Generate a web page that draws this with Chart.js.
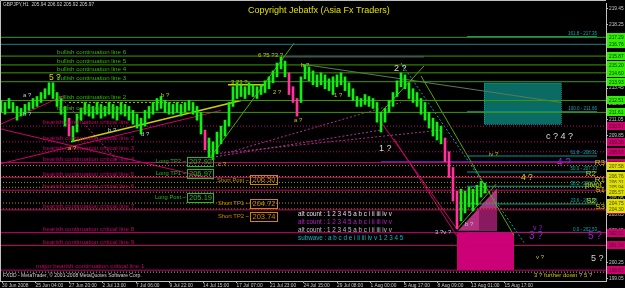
<!DOCTYPE html>
<html>
<head>
<meta charset="utf-8">
<script src="https://cdn.jsdelivr.net/npm/chart.js@4.4.1/dist/chart.umd.min.js"></script>
<style>
  html, body { margin: 0; padding: 0; background: #000; }
  #chart { display: block; }
</style>
</head>
<body>
<canvas id="chart" width="625" height="288"></canvas>
<script>
// GBPJPY H1 - bar slots (one slot = a few hours), prices in yen
const dateLabels = ["30 Jun 2008", "25 Jun 04:00", "27 Jun 20:00", "2 Jul 13:00", "7 Jul 06:00", "9 Jul 22:00",
  "14 Jul 15:00", "17 Jul 07:00", "21 Jul 23:00", "24 Jul 15:00", "29 Jul 08:00", "1 Aug 00:00",
  "5 Aug 17:00", "8 Aug 09:00", "13 Aug 01:00", "15 Aug 17:00"];
const dateTickPos = [0.25, 8.625, 17, 25.375, 33.75, 42.125, 50.5, 58.875, 67.25, 75.625, 84, 92.375,
  100.75, 109.125, 117.5, 125.875];
const priceTicks = [199.05, 200.25, 201.45, 202.65, 203.85, 205.05, 206.25, 207.45, 208.65, 209.85,
  211.05, 212.25, 213.45, 214.65, 215.85, 217.05, 218.25, 219.45];

const barHigh = [212.51, 212.36, 212.66, 212.36, 212.06, 211.91, 212.21, 212.36, 212.66, 212.81,
  213.11, 213.40, 213.85, 213.85, 213.11, 212.66, 212.06, 211.17, 210.57, 211.47,
  211.91, 212.36, 212.21, 212.06, 212.36, 212.21, 212.06, 212.36, 212.21, 212.06,
  212.36, 212.21, 212.06, 211.76, 211.47, 211.17, 211.76, 212.06, 212.36, 212.66,
  212.81, 212.51, 212.36, 212.21, 212.36, 212.21, 212.36, 212.51, 212.36, 212.06,
  211.61, 210.27, 209.67, 209.38, 210.12, 210.57, 211.02, 212.36, 213.55, 213.85,
  213.70, 213.55, 213.85, 213.70, 213.55, 213.70, 214.00, 214.30, 214.75, 215.35,
  215.79, 215.49, 214.60, 213.55, 212.66, 214.30, 215.20, 215.05, 214.75, 214.45,
  214.60, 214.45, 214.15, 214.30, 214.45, 214.60, 214.30, 213.85, 213.40, 212.81,
  212.66, 212.96, 212.81, 212.66, 212.36, 211.61, 211.91, 212.51, 213.11, 214.00,
  214.60, 214.45, 213.85, 213.40, 213.11, 212.66, 212.36, 211.61, 211.17, 210.87,
  210.57, 209.67, 208.63, 207.44, 205.64, 205.79, 205.64, 205.94, 205.79, 206.09,
  206.39, 206.24];
const barLow = [211.61, 211.47, 211.91, 211.61, 211.02, 211.33, 211.47, 211.76, 211.91, 212.06,
  212.36, 212.66, 212.96, 212.66, 212.06, 211.47, 210.57, 209.82, 209.38, 210.12,
  211.02, 211.47, 211.33, 211.17, 211.47, 211.17, 211.33, 211.47, 211.17, 211.02,
  211.47, 211.33, 211.02, 210.72, 210.42, 209.97, 210.57, 211.17, 211.47, 211.76,
  211.91, 211.61, 211.47, 211.47, 211.61, 211.33, 211.61, 211.76, 211.47, 211.02,
  209.97, 208.78, 208.18, 208.03, 208.48, 209.23, 209.82, 210.57, 212.06, 212.66,
  212.81, 212.66, 212.96, 212.81, 212.66, 212.96, 213.11, 213.40, 213.85, 214.30,
  214.90, 214.30, 212.96, 212.36, 211.33, 212.36, 214.15, 214.00, 213.70, 213.55,
  213.70, 213.40, 213.26, 212.96, 213.55, 213.70, 213.26, 212.81, 212.51, 212.06,
  212.06, 212.21, 212.06, 211.91, 210.87, 210.12, 210.87, 211.61, 212.06, 212.81,
  213.55, 213.40, 212.66, 212.36, 212.06, 211.47, 211.02, 210.42, 209.82, 209.52,
  209.23, 207.88, 206.69, 204.90, 202.81, 203.40, 204.00, 204.45, 204.15, 204.60,
  205.20, 205.50];

// horizontal levels
const bullLevels = [217.29, 215.87, 215.20, 214.60, 213.93, 212.51, 211.61];
const bullNames = ["", "bullish continuation line 6", "bullish continuation line 5", "bullish continuation line 4",
  "bullish continuation line 3", "bullish continuation line 2", "bullish continuation line 1"];
const tealLevel = 216.76;
const bearLevels = [210.57, 209.38, 208.63, 207.81, 206.69, 205.72, 204.23, 202.51, 201.54, 199.67];
const bearNames = ["bearish continuation critical line", "bearish continuation critical line 2",
  "bearish continuation critical line 3", "bearish continuation critical line 4",
  "bearish continuation critical line 5", "bearish continuation critical line 6",
  "bearish continuation critical line 7", "bearish continuation critical line 8",
  "bearish continuation critical line 9", "major bearish continuation critical line 1"];
const pivotLevels = [207.58, 206.76, 206.31, 205.94, 205.57, 204.75, 204.30];
const pivotNames = ["R3", "R2", "R1", "pivot", "S1", "S2", "S3"];
const fibLevels = [217.35, 211.66, 208.31, 207.10, 206.02, 204.68, 202.53];
const fibNames = ["161.8 - 217.35", "100.0 - 211.66", "61.8 - 208.31", "50.0 - 207.10",
  "38.2 - 206.02", "23.6 - 204.68", "0.0 - 202.53"];
const fibStart = 116.5, fibEnd = 149;

const longNames = ["Long TP2 ~", "Long TP1 ~", "Long Post ~"];
const longLevels = [207.92, 206.97, 205.19];
const shortNames = ["Short Post ~", "Short TP1 ~", "Short TP2 ~"];
const shortLevels = [206.50, 204.72, 203.74];

const countLines = ["alt count : 1 2 3 4 5 a b c i ii iii iv v", "alt count : 1 2 3 4 5 a b c i ii iii iv v",
  "alt count : 1 2 3 4 5 a b c i ii iii iv v", "subwave : a b c d e i ii iii iv v 1 2 3 4 5"];
const countPrices = [203.93, 203.26, 202.66, 202.06];
const countSlot = 74.25;

// trend lines: [slot1, price1, slot2, price2]
const yellowTrend = [[17.5, 209.38, 60, 212.51], [56.75, 213.70, 66.25, 213.70]];
const yellowDotted = [[17, 212.36, 45.75, 212.36]];
const magentaTrend = [[0, 207.73, 55, 211.76], [0, 210.35, 53.25, 206.54], [0, 210.72, 15.75, 212.88],
  [95, 210.87, 114.25, 202.66], [98.25, 209.60, 120, 199.45]];
const magentaDotted = [[13.25, 213.33, 29.25, 207.88], [53.75, 208.26, 95, 210.27],
  [53.75, 208.48, 110, 210.27], [57.5, 208.63, 100, 212.36]];
const greenTrend = [[52.5, 208.26, 73.25, 216.84], [105, 214.37, 128.25, 202.29],
  [114.25, 202.88, 123.75, 206.17], [95, 211.61, 105.75, 215.12]];
const grayTrend = [[75, 215.27, 140, 212.36]];
const tealDotted = [[100, 215.35, 130.75, 201.76]];
const purpleFlat = [[70, 215.80, 105.75, 215.80], [95, 207.88, 151.25, 207.88]];
const whiteDotted = [[-0.25, 199.52, 151.25, 199.52]];

// boxes: [slot1, price1, slot2, price2]
const tealBox = [120.75, 213.85, 140, 210.72];
const pinkBox = [114, 202.51, 128.25, 199.67];
const pinkHatch = [119.5, 204.37, 124, 202.66];
const pinkTriangle = [[114.25, 202.66], [124, 205.87], [124, 202.66]];

// wave notes: [slot, price, text]
const yellowBig = [[12, 214.23, "5 ?"], [130, 206.69, "4 ?"]];
const yellowSmall = [[16.75, 208.86, "a ?"], [40, 212.88, "b ?"], [54.25, 207.66, "c ?"], [57.5, 213.85, "3 ?3 ?"],
  [64.25, 215.94, "6 ?5 ?3 ?"], [68, 213.11, "2 ?"], [73.25, 211.02, "a ?"], [75, 215.20, "b ?"],
  [83.25, 212.88, "1 ?"], [122, 208.41, "iv ?"], [133.75, 200.65, "v ?"], [133.25, 199.30, "3 ? further down ? 5 ?"]];
const whiteBig = [[98.25, 214.90, "2 ?"], [94.5, 208.86, "1 ?"], [136.25, 209.82, "c ? 4 ?"], [147.5, 200.57, "5 ?"]];
const whiteSmall = [[5.5, 212.88, "a ?"], [5.5, 211.47, "b ?"], [35, 209.97, "d ?"], [26.75, 210.27, "b ?"],
  [108.5, 202.51, "3 ?v ?"], [116, 203.10, "b ?"]];
const purpleBig = [[132, 202.21, "3 ?"], [146.75, 202.21, "5 ?"], [139, 207.73, "4 ?"]];
const purpleSmall = [[133, 202.88, "v ?"]];

const FONT = "'Liberation Sans', Arial, sans-serif";
const X0 = -0.25, X1 = 151.25;

const datasets = [];
// mostly green bars, pink only on the sharper drops
const barColors = barHigh.map((h, i) =>
  i > 0 && (barHigh[i] + barLow[i]) < (barHigh[i - 1] + barLow[i - 1]) - 1.6 ? '#ff3399' : '#11ee11');
datasets.push({
  type: 'bar',
  data: barHigh.map((h, i) => ({ x: i, y: [barLow[i], h] })),
  backgroundColor: barColors,
  barThickness: 2,
  order: 0
});

function seg(s, color, dash, width) {
  datasets.push({
    type: 'line',
    data: [{ x: s[0], y: s[1] }, { x: s[2], y: s[3] }],
    borderColor: color,
    borderWidth: width || 1,
    borderDash: dash || [],
    pointRadius: 0,
    order: 5
  });
}

bullLevels.forEach(v => seg([X0, v, X1, v], '#3f9a00'));
seg([X0, tealLevel, X1, tealLevel], '#2a7a7a');
bearLevels.forEach((v, i) => seg([X0, v, X1, v], '#c8006e', i < 3 ? [1, 2] : []));
pivotLevels.forEach(v => seg([X0, v, X1, v], '#a0a000', [1, 2]));
fibLevels.forEach(v => seg([fibStart, v, fibEnd, v], '#009a9a'));
yellowTrend.forEach(s => seg(s, '#d0d000', [], 1.5));
yellowDotted.forEach(s => seg(s, '#b0b000', [2, 2]));
magentaTrend.forEach(s => seg(s, '#d0006e'));
magentaDotted.forEach(s => seg(s, '#b03090', [2, 2]));
greenTrend.forEach(s => seg(s, '#55aa00'));
grayTrend.forEach(s => seg(s, '#5a7a5a'));
tealDotted.forEach(s => seg(s, '#00aaaa', [2, 2]));
purpleFlat.forEach(s => seg(s, '#5533bb'));
whiteDotted.forEach(s => seg(s, '#aaaaaa', [1, 2]));

const overlay = {
  id: 'overlay',
  beforeDatasetsDraw(chart) {
    const ctx = chart.ctx, xs = chart.scales.x, ys = chart.scales.y;
    const X = v => xs.getPixelForValue(v), Y = v => ys.getPixelForValue(v);
    ctx.save();
    // teal zone
    ctx.fillStyle = '#0a6a64';
    ctx.fillRect(X(tealBox[0]), Y(tealBox[1]), X(tealBox[2]) - X(tealBox[0]), Y(tealBox[3]) - Y(tealBox[1]));
    ctx.strokeStyle = '#10a08a';
    ctx.setLineDash([1, 1]);
    ctx.strokeRect(X(tealBox[0]) + 0.5, Y(tealBox[1]) + 0.5, X(tealBox[2]) - X(tealBox[0]), Y(tealBox[3]) - Y(tealBox[1]));
    ctx.setLineDash([]);
    // pink zones
    ctx.fillStyle = '#cc0077';
    ctx.fillRect(X(pinkBox[0]), Y(pinkBox[1]), X(pinkBox[2]) - X(pinkBox[0]), Y(pinkBox[3]) - Y(pinkBox[1]));
    ctx.fillStyle = '#b4307e';
    ctx.beginPath();
    pinkTriangle.forEach((p, i) => i ? ctx.lineTo(X(p[0]), Y(p[1])) : ctx.moveTo(X(p[0]), Y(p[1])));
    ctx.closePath();
    ctx.fill();
    ctx.fillStyle = '#8a1a60';
    ctx.fillRect(X(pinkHatch[0]), Y(pinkHatch[1]), X(pinkHatch[2]) - X(pinkHatch[0]), Y(pinkHatch[3]) - Y(pinkHatch[1]));
    ctx.restore();
  },
  afterDatasetsDraw(chart) {
    const ctx = chart.ctx, xs = chart.scales.x, ys = chart.scales.y;
    const X = v => xs.getPixelForValue(v), Y = v => ys.getPixelForValue(v);
    ctx.save();
    ctx.textBaseline = 'bottom';
    ctx.textAlign = 'left';
    // level names
    ctx.font = '6.2px ' + FONT;
    ctx.fillStyle = '#33bb00';
    bullLevels.forEach((v, i) => { if (bullNames[i]) ctx.fillText(bullNames[i], X(14), Y(v) - 0.5); });
    ctx.fillStyle = '#c8006e';
    bearLevels.forEach((v, i) => ctx.fillText(bearNames[i], X(i === 9 ? 8.75 : 10.5), Y(v) - 0.5));
    // fib labels
    ctx.font = '4.5px ' + FONT;
    ctx.fillStyle = '#00b0b0';
    ctx.textAlign = 'right';
    fibLevels.forEach((v, i) => ctx.fillText(fibNames[i], X(fibEnd), Y(v) - 0.5));
    // pivots
    ctx.font = '8px ' + FONT;
    ctx.fillStyle = '#cccc00';
    pivotLevels.forEach((v, i) => {
      const right = (i === 1 || i === 5) ? 148.75 : (i === 3 ? 150.25 : 151);
      ctx.fillText(pivotNames[i], X(right), Y(v) + 1.5);
    });
    // long / short labels
    ctx.textBaseline = 'middle';
    function tagged(names, levels, textEnd, boxEnd, color) {
      levels.forEach((v, i) => {
        const y = Y(v);
        ctx.font = '5.8px ' + FONT;
        ctx.fillStyle = color;
        ctx.textAlign = 'right';
        ctx.fillText(names[i], X(textEnd) - 1, y);
        ctx.strokeStyle = color;
        ctx.lineWidth = 1;
        ctx.strokeRect(Math.round(X(textEnd)) + 0.5, Math.round(y - 4.5) + 0.5, X(boxEnd) - X(textEnd), 9);
        ctx.font = '7.5px ' + FONT;
        ctx.textAlign = 'center';
        ctx.fillText(v.toFixed(2), (X(textEnd) + X(boxEnd)) / 2 + 0.5, y + 0.5);
      });
    }
    tagged(longNames, longLevels, 46.5, 53, '#22bb22');
    tagged(shortNames, shortLevels, 62.25, 69, '#cc8800');
    // counts
    ctx.textAlign = 'left';
    ctx.font = '6.3px ' + FONT;
    const countColors = ['#e0e0e0', '#bb22cc', '#c0c0c0', '#00bbcc'];
    countLines.forEach((t, i) => { ctx.fillStyle = countColors[i]; ctx.fillText(t, X(countSlot), Y(countPrices[i])); });
    // wave notes
    function notes(list, font, color) {
      ctx.font = font + ' ' + FONT;
      ctx.fillStyle = color;
      list.forEach(n => ctx.fillText(n[2], X(n[0]), Y(n[1])));
    }
    notes(yellowBig, '8.5px', '#d8d800');
    notes(yellowSmall, '6px', '#c8c800');
    notes(whiteBig, '9px', '#d8d8d8');
    notes(whiteSmall, '6px', '#a8d0e0');
    notes(purpleBig, '10px', '#9922cc');
    notes(purpleSmall, '7px', '#9922cc');
    ctx.restore();
  },
  afterDraw(chart) {
    const ctx = chart.ctx, ys = chart.scales.y, area = chart.chartArea;
    const Y = v => ys.getPixelForValue(v);
    ctx.save();
    // price tags on the axis
    function tags(levels, fill, text) {
      levels.forEach(v => {
        const y = Math.round(Y(v));
        ctx.fillStyle = fill;
        ctx.fillRect(area.right + 1, y - 4, 18, 8);
        ctx.fillStyle = text;
        ctx.font = '4.8px ' + FONT;
        ctx.textAlign = 'left';
        ctx.textBaseline = 'middle';
        ctx.fillText(v.toFixed(2), area.right + 3, y + 0.5);
      });
    }
    tags(bullLevels.concat([tealLevel]), '#33ee00', '#003300');
    tags(bearLevels, '#d0006e', '#400020');
    tags(pivotLevels, '#e0e000', '#404000');
    // frame
    ctx.strokeStyle = '#c0c0c0';
    ctx.lineWidth = 1;
    ctx.beginPath();
    ctx.moveTo(0.5, area.bottom);
    ctx.lineTo(0.5, 0.5);
    ctx.lineTo(area.right, 0.5);
    ctx.stroke();
    // header, title, footer
    ctx.textAlign = 'left';
    ctx.textBaseline = 'middle';
    ctx.fillStyle = '#d0d0d0';
    ctx.font = '4.8px ' + FONT;
    ctx.fillText('GBPJPY,H1  205.94 206.02 205.92 205.97', 3, 5);
    ctx.font = '5px ' + FONT;
    ctx.fillText('FXDD - MetaTrader, \u00a9 2001-2008 MetaQuotes Software Corp.', 3, 276);
    ctx.fillStyle = '#e0e000';
    ctx.font = '9px ' + FONT;
    ctx.fillText('Copyright Jebatfx (Asia Fx Traders)', 248, 11);
    ctx.restore();
  }
};

new Chart(document.getElementById('chart'), {
  type: 'bar',
  data: { datasets: datasets },
  options: {
    responsive: false,
    devicePixelRatio: 1,
    animation: false,
    layout: { padding: 0 },
    plugins: { legend: { display: false }, tooltip: { enabled: false }, title: { display: false } },
    scales: {
      x: {
        type: 'linear',
        min: X0,
        max: X1,
        offset: false,
        grid: { drawOnChartArea: false, drawTicks: true, tickLength: 2, color: '#c0c0c0', offset: false },
        border: { color: '#c0c0c0' },
        afterBuildTicks: s => { s.ticks = dateTickPos.map(v => ({ value: v })); },
        afterFit: s => { s.height = 7; },
        ticks: {
          autoSkip: false,
          maxRotation: 0,
          align: 'start',
          padding: 0,
          color: '#c8c8c8',
          font: { size: 4.8, family: FONT },
          callback: (v, i) => dateLabels[i]
        }
      },
      y: {
        type: 'linear',
        position: 'right',
        min: 198.85,
        max: 219.82,
        grid: { drawOnChartArea: false, drawTicks: true, tickLength: 2, color: '#c0c0c0' },
        border: { color: '#c0c0c0' },
        afterBuildTicks: s => { s.ticks = priceTicks.map(v => ({ value: v })); },
        afterFit: s => { s.width = 19; },
        ticks: {
          padding: 1,
          color: '#c8c8c8',
          font: { size: 4.8, family: FONT },
          callback: v => v.toFixed(2)
        }
      }
    }
  },
  plugins: [overlay]
});
</script>
</body>
</html>
